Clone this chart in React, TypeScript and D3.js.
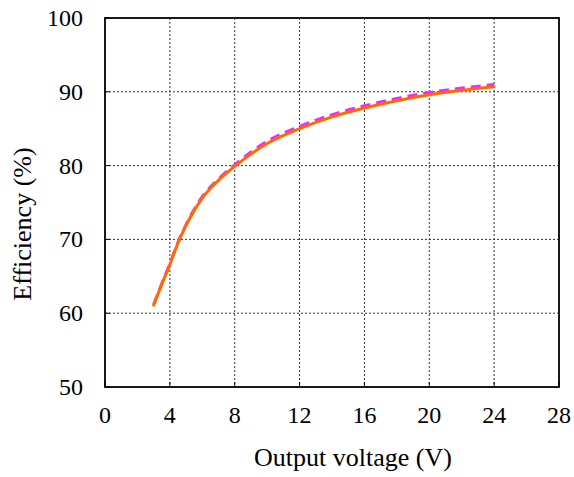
import * as React from "react";
import * as d3 from "d3";

// output voltage (V) and efficiency (%)
const voltages = [3, 3.5, 4, 4.5, 5, 5.5, 6, 7, 8, 10, 12, 14, 16, 18, 20, 22, 24];
const effDashed = [61.2, 64.0, 66.7, 69.6, 72.0, 74.1, 75.8, 78.2, 80.1, 83.3, 85.3, 86.9, 88.1, 89.1, 89.9, 90.5, 91.0];
const effSolid = [61.1, 63.9, 66.6, 69.5, 71.9, 73.9, 75.6, 78.0, 79.9, 83.0, 85.0, 86.6, 87.8, 88.8, 89.6, 90.2, 90.7];
const xTicks = [0, 4, 8, 12, 16, 20, 24, 28];
const yTicks = [50, 60, 70, 80, 90, 100];

const W = 574;
const H = 477;
const margin = { top: 18, right: 15, bottom: 90, left: 105 };

export default function App() {
  const x = d3.scaleLinear().domain([0, 28]).range([margin.left, W - margin.right]);
  const y = d3.scaleLinear().domain([50, 100]).range([H - margin.bottom, margin.top]);

  const line = d3
    .line<number>()
    .x((_, i) => x(voltages[i]))
    .y((d) => y(d))
    .curve(d3.curveMonotoneX);

  const font = "'Liberation Serif', 'Times New Roman', serif";
  const x0 = x(0), x1 = x(28), y0 = y(50), y1 = y(100);

  return (
    <svg width={W} height={H} style={{ position: "absolute", left: 0, top: 0, background: "#fff" }}>
      {/* grid */}
      {xTicks.slice(1, -1).map((t) => (
        <line key={"gx" + t} x1={x(t)} x2={x(t)} y1={y1} y2={y0} stroke="#333" strokeWidth={1} strokeDasharray="2,2" />
      ))}
      {yTicks.slice(1, -1).map((t) => (
        <line key={"gy" + t} x1={x0} x2={x1} y1={y(t)} y2={y(t)} stroke="#333" strokeWidth={1} strokeDasharray="2,2" />
      ))}
      {/* ticks */}
      {xTicks.map((t) => (
        <line key={"tx" + t} x1={x(t)} x2={x(t)} y1={y0} y2={y0 - 5} stroke="#000" strokeWidth={1} />
      ))}
      {yTicks.map((t) => (
        <line key={"ty" + t} x1={x0} x2={x0 + 5} y1={y(t)} y2={y(t)} stroke="#000" strokeWidth={1} />
      ))}
      {/* series */}
      <path d={line(effDashed) ?? ""} fill="none" stroke="#ff22ff" strokeWidth={3} strokeDasharray="10,6" />
      <path d={line(effSolid) ?? ""} fill="none" stroke="#ff6a00" strokeWidth={3} strokeLinecap="round" />
      {/* frame */}
      <rect x={x0} y={y1} width={x1 - x0} height={y0 - y1} fill="none" stroke="#000" strokeWidth={1.8} />
      {/* tick labels */}
      {xTicks.map((t) => (
        <text key={"lx" + t} x={x(t)} y={y0 + 36} textAnchor="middle" fontFamily={font} fontSize={24}>
          {t}
        </text>
      ))}
      {yTicks.map((t) => (
        <text key={"ly" + t} x={x0 - 22} y={y(t) + 8} textAnchor="end" fontFamily={font} fontSize={24}>
          {t}
        </text>
      ))}
      <text x={353} y={y0 + 79} textAnchor="middle" fontFamily={font} fontSize={26}>
        Output voltage (V)
      </text>
      <text
        transform={`translate(31,224) rotate(-90)`}
        textAnchor="middle"
        fontFamily={font}
        fontSize={26}
      >
        Efficiency (%)
      </text>
    </svg>
  );
}
